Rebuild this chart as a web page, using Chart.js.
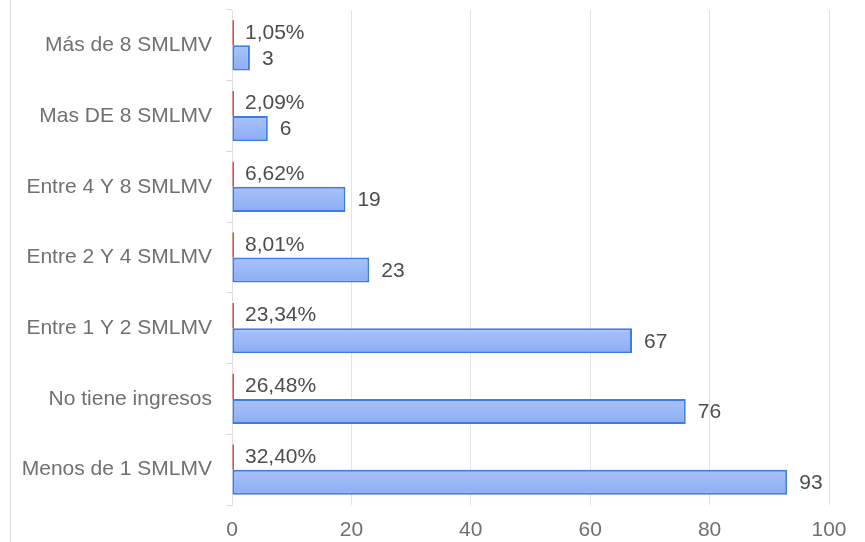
<!DOCTYPE html>
<html>
<head>
<meta charset="utf-8">
<script src="https://cdn.jsdelivr.net/npm/chart.js@4/dist/chart.umd.min.js"></script>
<style>
  html, body { margin: 0; padding: 0; background: #fff; }
  #wrap { position: relative; width: 865px; height: 542px; }
  #edge { position: absolute; left: 10px; top: 0; width: 1px; height: 542px; background: #d6d6d6; }
</style>
</head>
<body>
<div id="wrap">
  <div id="edge"></div>
  <canvas id="chart" width="865" height="542"></canvas>
</div>
<script>
// categories, top to bottom
var categories = ["Más de 8 SMLMV", "Mas DE 8 SMLMV", "Entre 4 Y 8 SMLMV", "Entre 2 Y 4 SMLMV",
                  "Entre 1 Y 2 SMLMV", "No tiene ingresos", "Menos de 1 SMLMV"];
var counts = [3, 6, 19, 23, 67, 76, 93];
var percents = [1.05, 2.09, 6.62, 8.01, 23.34, 26.48, 32.40]; // shown as labels
var shares = [0.0105, 0.0209, 0.0662, 0.0801, 0.2334, 0.2648, 0.3240]; // red bar length (fraction)
var xTicks = [0, 20, 40, 60, 80, 100];

var FONT = "'Liberation Sans', Arial, sans-serif";
var CAT_PCT = 0.71;

// draws the "1,05%" and "3" style labels next to the bars
var valueLabels = {
    id: 'valueLabels',
    afterDatasetsDraw: function(chart) {
        var ctx = chart.ctx;
        var base = chart.scales.x.getPixelForValue(0);
        ctx.save();
        ctx.font = '21px ' + FONT;
        ctx.fillStyle = '#4d4d4d';
        ctx.textAlign = 'left';
        ctx.textBaseline = 'middle';
        chart.getDatasetMeta(0).data.forEach(function(bar, i) {
            ctx.fillText(percents[i].toFixed(2).replace('.', ',') + '%', base + 13, bar.y);
        });
        chart.getDatasetMeta(1).data.forEach(function(bar, i) {
            ctx.fillText(String(counts[i]), bar.x + 12, bar.y + 1);
        });
        ctx.restore();
    }
};

// light-to-darker blue fill for each count bar
function blueFill(c) {
    var ys = c.chart.scales.y;
    if (c.type !== 'data' || !ys || !ys.height) return '#9bb7f6';
    var band = ys.height / categories.length;
    var mid = ys.getPixelForValue(c.dataIndex);
    var g = c.chart.ctx.createLinearGradient(0, mid, 0, mid + band * CAT_PCT / 2);
    g.addColorStop(0, '#aac2f8');
    g.addColorStop(1, '#8badf4');
    return g;
}

var ctx = document.getElementById('chart').getContext('2d');
var chart = new Chart(ctx, {
    type: 'bar',
    data: {
        labels: categories,
        datasets: [{
            label: 'Porcentaje',
            data: shares,
            backgroundColor: '#e5483f',
            borderWidth: 0,
            minBarLength: 2
        }, {
            label: 'Cantidad',
            data: counts,
            backgroundColor: blueFill,
            borderColor: '#3c7be9',
            borderWidth: 2,
            borderSkipped: false
        }]
    },
    options: {
        indexAxis: 'y',
        responsive: false,
        animation: false,
        devicePixelRatio: 1,
        layout: { padding: { top: 10, right: 36, left: 0, bottom: 0 } },
        datasets: { bar: { categoryPercentage: CAT_PCT, barPercentage: 1 } },
        plugins: {
            legend: { display: false },
            tooltip: { enabled: false }
        },
        scales: {
            x: {
                min: 0,
                max: 100,
                afterBuildTicks: function(s) { s.ticks = xTicks.map(function(v) { return { value: v }; }); },
                afterFit: function(s) { s.height = 37; },
                grid: { color: '#e3e3e3', drawTicks: false },
                border: { display: false },
                ticks: { color: '#707070', font: { family: FONT, size: 21 }, padding: 13 }
            },
            y: {
                afterFit: function(s) { s.width = 232; s.paddingTop = 0; s.paddingBottom = 0; },
                grid: { offset: true, drawOnChartArea: false, drawTicks: true, tickLength: 6, color: '#d9d9d9' },
                border: { display: true, color: '#e0e0e0' },
                ticks: { color: '#707070', font: { family: FONT, size: 21 }, padding: 14 }
            }
        }
    },
    plugins: [valueLabels]
});
</script>
</body>
</html>
